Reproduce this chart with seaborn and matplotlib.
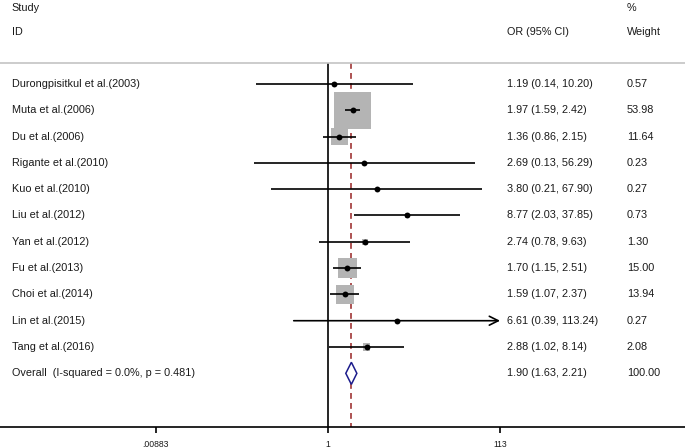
import numpy as np
import pandas as pd
import matplotlib
matplotlib.use("Agg")
import matplotlib.pyplot as plt
import seaborn as sns

# Study data
studies = ["Durongpisitkul et al.(2003)", "Muta et al.(2006)", "Du et al.(2006)",
           "Rigante et al.(2010)", "Kuo et al.(2010)", "Liu et al.(2012)",
           "Yan et al.(2012)", "Fu et al.(2013)", "Choi et al.(2014)",
           "Lin et al.(2015)", "Tang et al.(2016)"]
or_vals = [1.19, 1.97, 1.36, 2.69, 3.80, 8.77, 2.74, 1.70, 1.59, 6.61, 2.88]
lower = [0.14, 1.59, 0.86, 0.13, 0.21, 2.03, 0.78, 1.15, 1.07, 0.39, 1.02]
upper = [10.20, 2.42, 2.15, 56.29, 67.90, 37.85, 9.63, 2.51, 2.37, 113.24, 8.14]
weights = [0.57, 53.98, 11.64, 0.23, 0.27, 0.73, 1.30, 15.00, 13.94, 0.27, 2.08]

overall_label = "Overall  (I-squared = 0.0%, p = 0.481)"
overall_or, overall_lo, overall_hi, overall_w = 1.90, 1.63, 2.21, 100.00

tick_vals = [0.00883, 1, 113]
tick_labels = [".00883", "1", "113"]

df = pd.DataFrame({"study": studies, "or": or_vals, "lo": lower,
                   "hi": upper, "w": weights})
df["row"] = np.arange(len(df))
df["box"] = 12.9 * df["w"]  # marker area proportional to weight
overall_row = len(df)

sns.set_theme(style="white")
plt.rcParams["font.family"] = ["Liberation Sans", "DejaVu Sans"]
plt.rcParams["text.color"] = "#1a1a1a"
plt.rcParams["xtick.color"] = "black"
plt.rcParams["xtick.labelcolor"] = "#1a1a1a"

fig = plt.figure(figsize=(6.85, 4.48), dpi=100)
ax = fig.add_axes([0, 21 / 448, 1, 427 / 448])
ax.set_xscale("log")
ax.set_xlim(10 ** -3.914, 10 ** 4.26)
ax.set_ylim(13.04, -3.19)

header_y = -0.8
# reference lines
ax.vlines(1, header_y, 13.04, color="black", lw=1.2, zorder=1)
ax.vlines(overall_or, header_y, 13.04, color="#a03535", lw=1.2,
          linestyles=(0, (3.5, 2.5)), zorder=1)
ax.axhline(header_y, color="#c4c4c4", lw=1.2, zorder=1)

# weight boxes
sns.scatterplot(data=df, x="or", y="row", marker="s", s=df["box"],
                color="#b4b4b4", linewidth=0, ax=ax, zorder=2, legend=False)

# confidence intervals
clip = tick_vals[-1]
for _, r in df.iterrows():
    if r["hi"] > clip:
        ax.annotate("", xy=(clip, r["row"]), xytext=(r["lo"], r["row"]),
                    arrowprops=dict(arrowstyle="->", color="black", lw=1.2,
                                    mutation_scale=16, shrinkA=0, shrinkB=0),
                    zorder=3)
    else:
        ax.hlines(r["row"], r["lo"], r["hi"], color="black", lw=1.2, zorder=3)

sns.scatterplot(data=df, x="or", y="row", marker="o", s=18, color="black",
                linewidth=0, ax=ax, zorder=4, legend=False)

# overall diamond
h = 0.42
ax.fill([overall_lo, overall_or, overall_hi, overall_or],
        [overall_row, overall_row - h, overall_row, overall_row + h],
        facecolor="white", edgecolor="#1c1c8c", lw=1.1, zorder=4)

# text columns
tr = ax.get_yaxis_transform()
fs = 7.8
x_name, x_or, x_w = 0.017, 0.740, 0.915
ax.text(x_name, -2.89, "Study", transform=tr, fontsize=fs, va="center")
ax.text(x_name, -1.98, "ID", transform=tr, fontsize=fs, va="center")
ax.text(x_or, -1.98, "OR (95% CI)", transform=tr, fontsize=fs, va="center")
ax.text(x_w, -2.89, "%", transform=tr, fontsize=fs, va="center")
ax.text(x_w, -1.98, "Weight", transform=tr, fontsize=fs, va="center")

for _, r in df.iterrows():
    ax.text(x_name, r["row"], r["study"], transform=tr, fontsize=fs, va="center")
    ax.text(x_or, r["row"], f"{r['or']:.2f} ({r['lo']:.2f}, {r['hi']:.2f})",
            transform=tr, fontsize=fs, va="center")
    ax.text(x_w, r["row"], f"{r['w']:.2f}", transform=tr, fontsize=fs, va="center")

ax.text(x_name, overall_row, overall_label, transform=tr, fontsize=fs, va="center")
ax.text(x_or, overall_row, f"{overall_or:.2f} ({overall_lo:.2f}, {overall_hi:.2f})",
        transform=tr, fontsize=fs, va="center")
ax.text(x_w, overall_row, f"{overall_w:.2f}", transform=tr, fontsize=fs, va="center")

# axis styling
ax.set_xticks(tick_vals)
ax.set_xticklabels(tick_labels)
ax.xaxis.set_minor_locator(matplotlib.ticker.NullLocator())
ax.tick_params(axis="x", bottom=True, direction="out", length=4.5, width=1.2,
               labelsize=6.2, pad=4.5)
ax.set_yticks([])
ax.set_xlabel("")
ax.set_ylabel("")
for side in ["top", "right", "left"]:
    ax.spines[side].set_visible(False)
ax.spines["bottom"].set_color("black")
ax.spines["bottom"].set_linewidth(1.2)
ax.patch.set_alpha(0)

fig.savefig("out.png", dpi=100)
